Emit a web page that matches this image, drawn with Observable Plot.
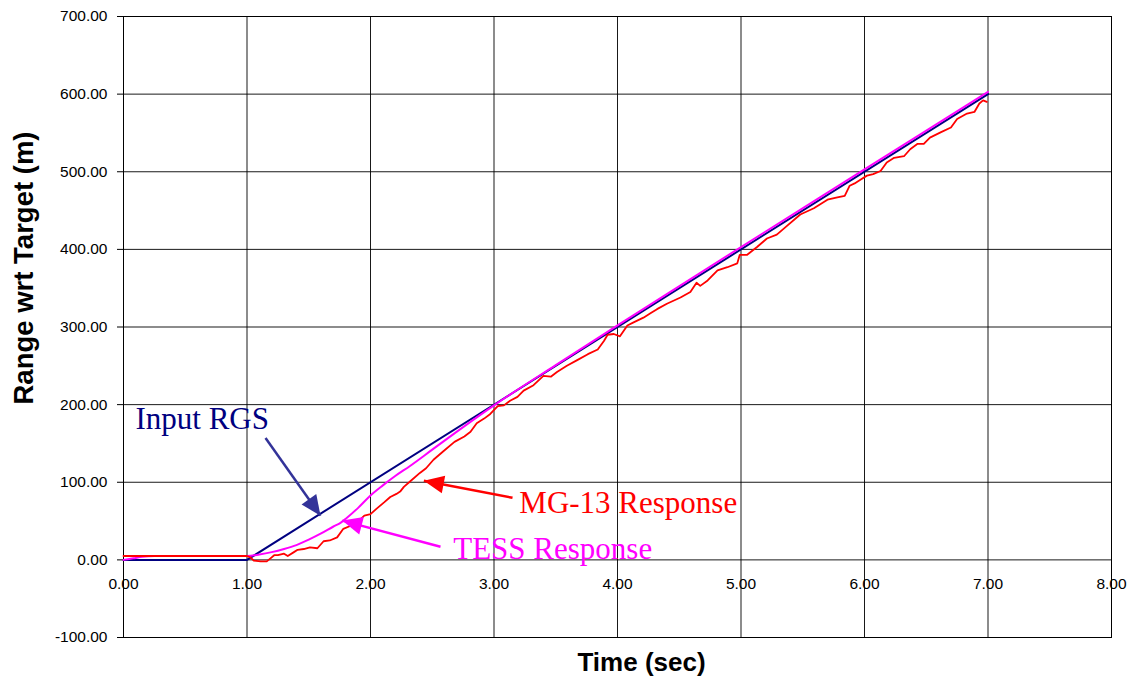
<!DOCTYPE html>
<html>
<head>
<meta charset="utf-8">
<script src="https://cdn.jsdelivr.net/npm/d3@7"></script>
<script src="https://cdn.jsdelivr.net/npm/@observablehq/plot@0.6"></script>
<style>
  body { margin: 0; background: #fff; }
  svg { display: block; }
</style>
</head>
<body>
<div id="chart"></div>
<script>
// ---- Tick values ----
const xTicks = [0, 1, 2, 3, 4, 5, 6, 7, 8];
const yTicks = [-100, 0, 100, 200, 300, 400, 500, 600, 700];

// ---- Input RGS (navy) ----
const rgsTime  = [0, 1, 7];
const rgsRange = [0, 0, 600];

// ---- TESS Response (magenta) ----
const tessTime  = [0, 0.08, 0.15, 0.25, 1.0, 1.1, 1.2, 1.3, 1.4, 1.5, 1.6, 1.7, 1.76, 1.8, 1.9, 2.0, 2.1, 2.2, 2.32, 2.5, 2.75, 3.0, 3.5, 4.0, 5.0, 6.0, 7.0];
const tessRange = [0, 2, 4, 5, 5, 7, 10, 14, 19, 26, 34, 43, 48, 53, 67, 83, 96, 108, 121, 142, 171, 199, 251, 302, 403, 503, 603];

// ---- MG-13 Response (red) ----
const mgTime = [0.00, 1.00, 1.03, 1.055, 1.11, 1.16, 1.19, 1.22, 1.25, 1.30, 1.33, 1.38, 1.41, 1.46, 1.51, 1.57, 1.62, 1.67, 1.73, 1.78,
  1.84, 1.89, 1.95, 2.00, 2.05, 2.11, 2.16, 2.21, 2.24, 2.27, 2.32, 2.40, 2.45, 2.51, 2.59, 2.68, 2.76, 2.81, 2.86, 2.92,
  2.97, 3.03, 3.08, 3.13, 3.19, 3.24, 3.32, 3.40, 3.46, 3.51, 3.59, 3.67, 3.76, 3.84, 3.89, 3.92, 3.97, 4.02, 4.08, 4.13,
  4.21, 4.27, 4.32, 4.40, 4.51, 4.59, 4.64, 4.67, 4.73, 4.81, 4.89, 4.97, 4.99, 5.05, 5.13, 5.21, 5.29, 5.37, 5.48, 5.59,
  5.70, 5.78, 5.84, 5.88, 5.92, 5.97, 6.02, 6.07, 6.13, 6.18, 6.24, 6.32, 6.37, 6.43, 6.48, 6.53, 6.62, 6.70, 6.75, 6.83,
  6.89, 6.93, 6.96, 6.99];
const mgRange = [5, 5, 3, -1, -2, -2, 2, 6, 6, 8, 5, 10, 13, 14, 16, 15, 24, 25, 29, 40,
  44, 48, 57, 59, 66, 74, 81, 85, 88, 94, 101, 112, 118, 129, 140, 152, 159, 165, 176, 182,
  188, 198, 199, 205, 210, 218, 225, 237, 236, 242, 250, 257, 265, 271, 282, 290, 291, 288, 302, 306,
  312, 318, 323, 330, 338, 345, 357, 353, 360, 373, 377, 382, 393, 393, 403, 414, 419, 430, 445, 453,
  464, 467, 469, 482, 485, 490, 495, 497, 501, 512, 518, 520, 529, 536, 536, 544, 551, 557, 568, 575,
  577, 588, 592, 590];

// ---- Annotations ----
const labelText   = ["Input RGS", "MG-13 Response", "TESS Response"];
const labelColor  = ["#000080", "#FF0000", "#FF00FF"];
const labelX      = [0.097, 3.205, 2.67];
const labelY      = [169, 61, 1.3];
const arrowColor  = ["#333399", "#FF0000", "#FF00FF"];
const arrowTailX  = [1.15, 3.15, 2.567];
const arrowTailY  = [157, 80, 17];
const arrowTipX   = [1.595, 2.432, 1.771];
const arrowTipY   = [57, 102, 50.6];

const xTitle = "Time (sec)";
const yTitle = "Range wrt Target (m)";

const idx = n => d3.range(n);

const base = {
  width: 1128,
  height: 676,
  marginLeft: 123,
  marginRight: 17,
  marginTop: 16,
  marginBottom: 39,
  x: {domain: [0, 8], axis: null},
  y: {domain: [-100, 700], axis: null},
  style: {fontFamily: "'Liberation Sans', Arial, sans-serif", background: "#fff", color: "#000", overflow: "visible"}
};

// probe plot to get scales for arrowhead orientation
const probe = Plot.plot({...base, marks: [Plot.line(idx(3), {x: i => rgsTime[i], y: i => rgsRange[i]})]});
const sx = probe.scale("x"), sy = probe.scale("y");

const headSymbol = {
  draw(ctx) {
    ctx.moveTo(0, 0);
    ctx.lineTo(-9, 20);
    ctx.lineTo(9, 20);
    ctx.closePath();
  }
};

const marks = [
  Plot.gridX(xTicks, {stroke: "#000", strokeOpacity: 0.9, strokeWidth: 1}),
  Plot.gridY(yTicks, {stroke: "#000", strokeOpacity: 0.9, strokeWidth: 1}),
  Plot.frame({stroke: "#000"}),
  Plot.axisY({ticks: yTicks, tickFormat: d => d.toFixed(2), tickSize: 6, tickPadding: 10, fontSize: 15.5, label: null}),
  Plot.text(xTicks, {x: d => d, y: 0, text: d => d.toFixed(2), dy: 24, fontSize: 15.5, fill: "#000"}),
  Plot.text([xTitle], {text: d => d, frameAnchor: "bottom", dy: 33, dx: 24, lineAnchor: "bottom", fontSize: 26, fontWeight: "bold", fill: "#000"}),
  Plot.text([yTitle], {text: d => d, frameAnchor: "left", textAnchor: "middle", dx: -99, dy: -59, rotate: -90, fontSize: 27.5, fontWeight: "bold", fill: "#000"}),
  Plot.line(idx(rgsTime.length), {x: i => rgsTime[i], y: i => rgsRange[i], stroke: "#000080", strokeWidth: 2}),
  Plot.line(idx(tessTime.length), {x: i => tessTime[i], y: i => tessRange[i], stroke: "#FF00FF", strokeWidth: 2, curve: "monotone-x"}),
  Plot.line(idx(mgTime.length), {x: i => mgTime[i], y: i => mgRange[i], stroke: "#FF0000", strokeWidth: 1.8})
];

for (let i = 0; i < labelText.length; i++) {
  const dx = sx.apply(arrowTipX[i]) - sx.apply(arrowTailX[i]);
  const dy = sy.apply(arrowTipY[i]) - sy.apply(arrowTailY[i]);
  const rot = Math.atan2(dx, -dy) * 180 / Math.PI;
  marks.push(
    Plot.link([i], {x1: arrowTailX[i], y1: arrowTailY[i], x2: arrowTipX[i], y2: arrowTipY[i], stroke: arrowColor[i], strokeWidth: 2.5}),
    Plot.dot([i], {x: arrowTipX[i], y: arrowTipY[i], symbol: headSymbol, rotate: rot, fill: arrowColor[i], stroke: "none"}),
    Plot.text([labelText[i]], {x: labelX[i], y: labelY[i], text: d => d, textAnchor: "start", lineAnchor: "bottom",
      fontSize: 31, fontFamily: "'Liberation Serif', 'Times New Roman', serif", fill: labelColor[i]})
  );
}

const chart = Plot.plot({...base, marks});
document.getElementById("chart").appendChild(chart);
</script>
</body>
</html>
